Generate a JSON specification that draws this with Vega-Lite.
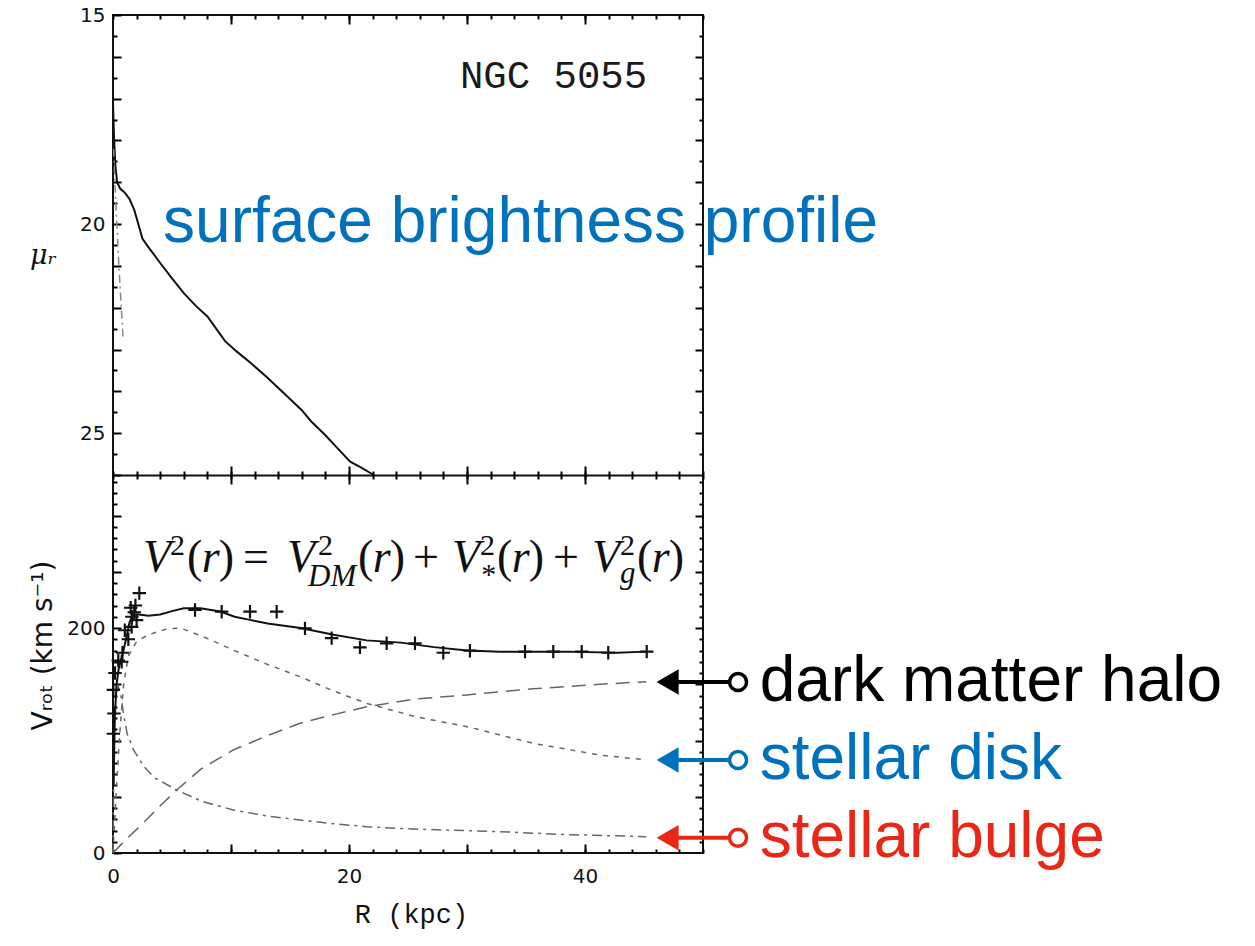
{
  "$schema": "https://vega.github.io/schema/vega-lite/v6.json",
  "width": 590,
  "height": 838,
  "autosize": {"type": "none"},
  "padding": {"left": 113, "top": 15, "right": 552, "bottom": 93},
  "background": "white",
  "config": {
    "view": {"stroke": "#111", "strokeWidth": 2},
    "axis": {
      "grid": false, "domainColor": "#111", "domainWidth": 2, "tickColor": "#000000", "tickWidth": 2, "tickOpacity": 1,
      "labelFont": "DejaVu Sans", "labelFontSize": 20, "labelColor": "#111", "labelFlush": false,
      "labelOverlap": false, "labelBound": false, "titleColor": "#111", "zindex": 2
    }
  },
  "datasets": {
    "sb": [
      {"R":0.0,"mu":17.1},{"R":0.05,"mu":17.6},{"R":0.1,"mu":18.0},{"R":0.2,"mu":18.6},{"R":0.35,"mu":19.0},
      {"R":0.6,"mu":19.15},{"R":1.0,"mu":19.25},{"R":1.4,"mu":19.4},{"R":1.8,"mu":19.66},{"R":2.2,"mu":20.05},
      {"R":2.5,"mu":20.35},{"R":3.0,"mu":20.55},{"R":4.0,"mu":20.93},{"R":5.0,"mu":21.3},{"R":6.0,"mu":21.65},
      {"R":7.0,"mu":21.95},{"R":8.0,"mu":22.21},{"R":9.0,"mu":22.6},{"R":9.5,"mu":22.8},{"R":10.5,"mu":23.05},
      {"R":11.7,"mu":23.33},{"R":13.0,"mu":23.65},{"R":14.8,"mu":24.13},{"R":16.0,"mu":24.45},{"R":16.8,"mu":24.72},
      {"R":18.0,"mu":25.05},{"R":19.0,"mu":25.35},{"R":20.1,"mu":25.68},{"R":21.0,"mu":25.82},{"R":22.1,"mu":26.0}
    ],
    "sbBulge": [
      {"R":0.05,"mu":18.2},{"R":0.25,"mu":19.6},{"R":0.5,"mu":21.0},{"R":0.7,"mu":22.0},{"R":0.85,"mu":22.7}
    ],
    "topNotes": [
      {"label":"NGC 5055","R":29.4,"mu":16.75},
      {"label":"surface brightness profile","R":4.24,"mu":20.43}
    ],
    "vtot": [
      {"R":0.05,"v":60},{"R":0.15,"v":120},{"R":0.3,"v":150},{"R":0.5,"v":165},{"R":0.8,"v":176},
      {"R":1.1,"v":190},{"R":1.4,"v":205},{"R":1.7,"v":212},{"R":2.2,"v":212},{"R":3.0,"v":211},
      {"R":4.0,"v":212},{"R":5.0,"v":215},{"R":6.0,"v":217.5},{"R":7.4,"v":217.5},{"R":9.1,"v":214.6},
      {"R":10.3,"v":210},{"R":11.7,"v":207},{"R":13.1,"v":204},{"R":15.9,"v":200},{"R":18.7,"v":194},
      {"R":21.5,"v":189},{"R":24.4,"v":187},{"R":27.2,"v":183},{"R":30.0,"v":180},{"R":32.8,"v":179},
      {"R":38.5,"v":179},{"R":42.7,"v":178},{"R":45.2,"v":179}
    ],
    "obs": [
      {"R":0.03,"v":106},{"R":0.08,"v":124},{"R":0.03,"v":145},{"R":0.17,"v":160},{"R":0.45,"v":171},
      {"R":0.74,"v":170},{"R":0.8,"v":178},{"R":1.0,"v":198},{"R":1.3,"v":190},{"R":1.58,"v":201},
      {"R":1.5,"v":218},{"R":1.8,"v":214},{"R":1.6,"v":210},{"R":2.0,"v":207},{"R":1.9,"v":220},
      {"R":2.23,"v":231},
      {"R":6.95,"v":216},{"R":9.21,"v":214.5},{"R":11.61,"v":214.5},{"R":13.87,"v":214.5},{"R":16.27,"v":199.7},
      {"R":18.53,"v":191},{"R":20.93,"v":182.8},{"R":23.19,"v":186.4},{"R":25.59,"v":186.4},{"R":27.99,"v":178},
      {"R":30.25,"v":179.8},{"R":34.92,"v":179},{"R":37.31,"v":179},{"R":39.72,"v":179},{"R":41.97,"v":178},
      {"R":45.23,"v":179}
    ],
    "disk": [
      {"R":0.0,"v":0},{"R":0.3,"v":60},{"R":0.6,"v":110},{"R":0.9,"v":150},{"R":1.3,"v":175},{"R":2.0,"v":188},
      {"R":3.0,"v":194},{"R":4.5,"v":199},{"R":5.7,"v":200},{"R":7.5,"v":193},{"R":10.2,"v":180.4},{"R":13.0,"v":168},
      {"R":15.85,"v":156.7},{"R":18.7,"v":144},{"R":21.5,"v":133},{"R":25.7,"v":121},{"R":30.0,"v":112.3},
      {"R":35.6,"v":97.5},{"R":41.3,"v":87},{"R":45.2,"v":82.7}
    ],
    "halo": [
      {"R":0.0,"v":0},{"R":1.0,"v":11},{"R":2.5,"v":26},{"R":4.0,"v":42},{"R":5.4,"v":56},{"R":7.5,"v":75},
      {"R":10.2,"v":91.6},{"R":13.0,"v":104},{"R":15.85,"v":115.3},{"R":18.7,"v":123},{"R":21.5,"v":130},
      {"R":25.7,"v":137},{"R":30.0,"v":140.5},{"R":35.6,"v":146},{"R":41.3,"v":150},{"R":45.2,"v":152.3}
    ],
    "bulge": [
      {"R":0.0,"v":0},{"R":0.05,"v":60},{"R":0.12,"v":110},{"R":0.25,"v":140},{"R":0.45,"v":148},{"R":0.7,"v":138},
      {"R":0.87,"v":125},{"R":1.2,"v":106},{"R":1.72,"v":92},{"R":2.6,"v":77},{"R":3.5,"v":67},{"R":5.4,"v":56},
      {"R":7.5,"v":46},{"R":10.2,"v":38.2},{"R":13.0,"v":33},{"R":15.85,"v":29.3},{"R":18.7,"v":26},{"R":21.5,"v":23.4},
      {"R":25.0,"v":21.5},{"R":28.5,"v":20.3},{"R":32.8,"v":19},{"R":38.0,"v":16.5},{"R":45.2,"v":14.5}
    ],
    "ann": [
      {"component":"dark matter halo","v":152},
      {"component":"stellar disk","v":82.7},
      {"component":"stellar bulge","v":13.5}
    ],
    "fMainIt": [
      {"t":"V","R":2.54,"v":250},{"t":"V","R":14.75,"v":250},{"t":"V","R":28.73,"v":250},{"t":"V","R":40.59,"v":250},
      {"t":"r","R":7.52,"v":250},{"t":"r","R":22.01,"v":250},{"t":"r","R":33.79,"v":250},{"t":"r","R":45.65,"v":250}
    ],
    "fMainRm": [
      {"t":"(","R":6.27,"v":250},{"t":"(","R":20.76,"v":250},{"t":"(","R":32.54,"v":250},{"t":"(","R":44.41,"v":250},
      {"t":")","R":8.97,"v":250},{"t":")","R":23.46,"v":250},{"t":")","R":35.24,"v":250},{"t":")","R":47.1,"v":250},
      {"t":"=","R":11.02,"v":250},{"t":"+","R":25.42,"v":250},{"t":"+","R":37.29,"v":250}
    ],
    "fSup": [
      {"t":"2","R":4.83,"v":265},{"t":"2","R":17.37,"v":265},{"t":"2","R":31.1,"v":265},{"t":"2","R":42.97,"v":265}
    ],
    "fSubIt": [
      {"t":"DM","R":16.53,"v":237},{"t":"g","R":42.97,"v":240}
    ],
    "fSubRm": [
      {"t":"*","R":31.2,"v":239}
    ]
  },
  "layer": [
    {
      "data": {"name": "sb"},
      "mark": {"type": "line", "color": "#111", "strokeWidth": 2},
      "encoding": {
        "x": {"field": "R", "type": "quantitative", "scale": {"domain": [0, 50], "nice": false, "zero": false},
          "axis": {"orient": "top", "values": [0,2,4,6,8,10,12,14,16,18,20,22,24,26,28,30,32,34,36,38,40,42,44,46,48,50], "ticks": true, "tickSize": -4, "labels": false, "domain": false, "title": null}},
        "y": {"field": "mu", "type": "quantitative", "scale": {"domain": [15, 26], "range": [0, 460], "nice": false, "zero": false},
          "axis": {"orient": "left", "values": [15, 20, 25], "ticks": false, "labelPadding": 8, "domain": false,
            "title": "μᵣ", "titleAngle": 0, "titleX": -70, "titleY": 240, "titleAlign": "center", "titleBaseline": "middle",
            "titleFont": "DejaVu Serif", "titleFontStyle": "italic", "titleFontSize": 27, "titleFontWeight": "normal"}}
      }
    },
    {
      "data": {"name": "sb"},
      "mark": {"type": "line", "opacity": 0},
      "encoding": {
        "x": {"field": "R", "type": "quantitative", "scale": {"domain": [0, 50], "nice": false, "zero": false},
          "axis": {"orient": "top", "values": [10, 20, 30, 40], "ticks": true, "tickSize": -9, "labels": false, "domain": false, "title": null}},
        "y": {"field": "mu", "type": "quantitative", "scale": {"domain": [15, 26], "range": [0, 460], "nice": false, "zero": false},
          "axis": {"orient": "left", "values": [15.5,16.5,17.5,18.5,19.5,20.5,21.5,22.5,23.5,24.5,25.5], "ticks": true, "tickSize": -4, "labels": false, "domain": false, "title": null}}
      }
    },
    {
      "data": {"name": "sbBulge"},
      "mark": {"type": "line", "color": "#888", "strokeWidth": 1.5, "strokeDash": [8, 4, 2, 4]},
      "encoding": {
        "x": {"field": "R", "type": "quantitative", "scale": {"domain": [0, 50], "nice": false, "zero": false},
          "axis": {"orient": "bottom", "offset": -378, "ticks": false, "labels": false, "domain": true, "title": null}},
        "y": {"field": "mu", "type": "quantitative", "scale": {"domain": [15, 26], "range": [0, 460], "nice": false, "zero": false},
          "axis": {"orient": "left", "values": [15,16,17,18,19,20,21,22,23,24,25,26], "ticks": true, "tickSize": -8, "labels": false, "domain": false, "title": null}}
      }
    },
    {
      "data": {"name": "topNotes"},
      "transform": [{"filter": "datum.label === 'NGC 5055'"}],
      "mark": {"type": "text", "font": "Liberation Mono", "fontSize": 39, "align": "left", "baseline": "alphabetic", "color": "#1a1a1a"},
      "encoding": {
        "text": {"field": "label"},
        "x": {"field": "R", "type": "quantitative", "scale": {"domain": [0, 50], "nice": false, "zero": false},
          "axis": {"orient": "bottom", "offset": -382, "values": [0,2,4,6,8,10,12,14,16,18,20,22,24,26,28,30,32,34,36,38,40,42,44,46,48,50], "ticks": true, "tickSize": 8, "labels": false, "domain": false, "title": null}},
        "y": {"field": "mu", "type": "quantitative", "scale": {"domain": [15, 26], "range": [0, 460], "nice": false, "zero": false},
          "axis": {"orient": "right", "values": [15.5,16.5,17.5,18.5,19.5,20.5,21.5,22.5,23.5,24.5,25.5], "ticks": true, "tickSize": -4, "labels": false, "domain": false, "title": null}}
      }
    },
    {
      "data": {"name": "topNotes"},
      "transform": [{"filter": "datum.label === 'surface brightness profile'"}],
      "mark": {"type": "text", "font": "Liberation Sans", "fontSize": 64, "align": "left", "baseline": "alphabetic", "color": "#0071BC"},
      "encoding": {
        "text": {"field": "label"},
        "x": {"field": "R", "type": "quantitative", "scale": {"domain": [0, 50], "nice": false, "zero": false},
          "axis": {"orient": "bottom", "offset": -387, "values": [10, 20, 30, 40], "ticks": true, "tickSize": 18, "labels": false, "domain": false, "title": null}},
        "y": {"field": "mu", "type": "quantitative", "scale": {"domain": [15, 26], "range": [0, 460], "nice": false, "zero": false},
          "axis": {"orient": "right", "values": [16,17,18,19,20,21,22,23,24,25], "ticks": true, "tickSize": -8, "labels": false, "domain": false, "title": null}}
      }
    },
    {
      "data": {"name": "disk"},
      "mark": {"type": "line", "color": "#666", "strokeWidth": 1.5, "strokeDash": [5, 6]},
      "encoding": {
        "x": {"field": "R", "type": "quantitative", "scale": {"domain": [0, 50], "nice": false, "zero": false},
          "axis": {"orient": "bottom", "values": [10, 20, 30, 40], "ticks": true, "tickSize": -9, "labels": false, "domain": false, "title": null}},
        "y": {"field": "v", "type": "quantitative", "scale": {"domain": [0, 336], "range": [838, 460], "nice": false, "zero": false},
          "axis": {"orient": "right", "values": [10,20,30,40,60,70,80,90,110,120,130,140,160,170,180,190,210,220,230,240,260,270,280,290,310,320,330], "ticks": true, "tickSize": -4, "labels": false, "domain": false, "title": null}}
      }
    },
    {
      "data": {"name": "halo"},
      "mark": {"type": "line", "color": "#666", "strokeWidth": 1.5, "strokeDash": [14, 8]},
      "encoding": {
        "x": {"field": "R", "type": "quantitative", "scale": {"domain": [0, 50], "nice": false, "zero": false}, "axis": null},
        "y": {"field": "v", "type": "quantitative", "scale": {"domain": [0, 336], "range": [838, 460], "nice": false, "zero": false},
          "axis": {"orient": "right", "values": [50, 100, 150, 200, 250, 300], "ticks": true, "tickSize": -8, "labels": false, "domain": false, "title": null}}
      }
    },
    {
      "data": {"name": "bulge"},
      "mark": {"type": "line", "color": "#666", "strokeWidth": 1.5, "strokeDash": [10, 5, 3, 5]},
      "encoding": {
        "x": {"field": "R", "type": "quantitative", "scale": {"domain": [0, 50], "nice": false, "zero": false}, "axis": null},
        "y": {"field": "v", "type": "quantitative", "scale": {"domain": [0, 336], "range": [838, 460], "nice": false, "zero": false},
          "axis": {"orient": "left", "values": [0, 50, 100, 150, 200, 250, 300], "ticks": true, "tickSize": -8, "labels": false, "domain": false, "title": null}}
      }
    },
    {
      "data": {"name": "vtot"},
      "mark": {"type": "line", "color": "#111", "strokeWidth": 2},
      "encoding": {
        "x": {"field": "R", "type": "quantitative", "scale": {"domain": [0, 50], "nice": false, "zero": false},
          "axis": {"orient": "bottom", "values": [0, 20, 40], "ticks": false, "labelPadding": 13, "domain": false,
            "title": "R (kpc)", "titleFont": "Liberation Mono", "titleFontSize": 27, "titleFontWeight": "normal",
            "titleX": 298, "titleY": 69, "titleAlign": "center", "titleBaseline": "alphabetic"}},
        "y": {"field": "v", "type": "quantitative", "scale": {"domain": [0, 336], "range": [838, 460], "nice": false, "zero": false},
          "axis": {"orient": "left", "values": [0, 200], "ticks": false, "labelPadding": 8, "domain": false,
            "title": "Vᵣₒₜ (km s⁻¹)", "titleFont": "DejaVu Sans", "titleFontSize": 28, "titleFontWeight": "normal",
            "titleAngle": -90, "titleX": -70, "titleY": 630, "titleAlign": "center", "titleBaseline": "middle"}}
      }
    },
    {
      "data": {"name": "obs"},
      "mark": {"type": "point", "shape": "M-1,0L1,0M0,-1L0,1", "size": 180, "filled": false, "stroke": "#111", "strokeWidth": 2.2, "opacity": 1},
      "encoding": {
        "x": {"field": "R", "type": "quantitative", "scale": {"domain": [0, 50], "nice": false, "zero": false},
          "axis": {"orient": "bottom", "values": [0,2,4,6,8,10,12,14,16,18,20,22,24,26,28,30,32,34,36,38,40,42,44,46,48,50], "ticks": true, "tickSize": -4, "labels": false, "domain": false, "title": null}},
        "y": {"field": "v", "type": "quantitative", "scale": {"domain": [0, 336], "range": [838, 460], "nice": false, "zero": false},
          "axis": {"orient": "left", "values": [10,20,30,40,60,70,80,90,110,120,130,140,160,170,180,190,210,220,230,240,260,270,280,290,310,320,330], "ticks": true, "tickSize": -4, "labels": false, "domain": false, "title": null}}
      }
    },
    {
      "data": {"name": "fMainIt"},
      "mark": {"type": "text", "font": "Liberation Serif", "fontStyle": "italic", "fontSize": 46, "align": "left", "baseline": "alphabetic", "color": "#111"},
      "encoding": {
        "text": {"field": "t"},
        "x": {"field": "R", "type": "quantitative", "scale": {"domain": [0, 50], "nice": false, "zero": false}, "axis": null},
        "y": {"field": "v", "type": "quantitative", "scale": {"domain": [0, 336], "range": [838, 460], "nice": false, "zero": false}, "axis": null}
      }
    },
    {
      "data": {"name": "fMainRm"},
      "mark": {"type": "text", "font": "Liberation Serif", "fontSize": 46, "align": "left", "baseline": "alphabetic", "color": "#111"},
      "encoding": {
        "text": {"field": "t"},
        "x": {"field": "R", "type": "quantitative", "scale": {"domain": [0, 50], "nice": false, "zero": false}, "axis": null},
        "y": {"field": "v", "type": "quantitative", "scale": {"domain": [0, 336], "range": [838, 460], "nice": false, "zero": false}, "axis": null}
      }
    },
    {
      "data": {"name": "fSup"},
      "mark": {"type": "text", "font": "Liberation Serif", "fontSize": 30, "align": "left", "baseline": "alphabetic", "color": "#111"},
      "encoding": {
        "text": {"field": "t"},
        "x": {"field": "R", "type": "quantitative", "scale": {"domain": [0, 50], "nice": false, "zero": false}, "axis": null},
        "y": {"field": "v", "type": "quantitative", "scale": {"domain": [0, 336], "range": [838, 460], "nice": false, "zero": false}, "axis": null}
      }
    },
    {
      "data": {"name": "fSubIt"},
      "mark": {"type": "text", "font": "Liberation Serif", "fontStyle": "italic", "fontSize": 31, "align": "left", "baseline": "alphabetic", "color": "#111"},
      "encoding": {
        "text": {"field": "t"},
        "x": {"field": "R", "type": "quantitative", "scale": {"domain": [0, 50], "nice": false, "zero": false}, "axis": null},
        "y": {"field": "v", "type": "quantitative", "scale": {"domain": [0, 336], "range": [838, 460], "nice": false, "zero": false}, "axis": null}
      }
    },
    {
      "data": {"name": "fSubRm"},
      "mark": {"type": "text", "font": "Liberation Serif", "fontSize": 30, "align": "left", "baseline": "alphabetic", "color": "#111"},
      "encoding": {
        "text": {"field": "t"},
        "x": {"field": "R", "type": "quantitative", "scale": {"domain": [0, 50], "nice": false, "zero": false}, "axis": null},
        "y": {"field": "v", "type": "quantitative", "scale": {"domain": [0, 336], "range": [838, 460], "nice": false, "zero": false}, "axis": null}
      }
    },
    {
      "data": {"name": "ann"},
      "mark": {"type": "rule", "strokeWidth": 4},
      "encoding": {
        "x": {"datum": 47.3, "type": "quantitative", "scale": {"domain": [0, 50], "nice": false, "zero": false}, "axis": null},
        "x2": {"datum": 52.3},
        "y": {"field": "v", "type": "quantitative", "scale": {"domain": [0, 336], "range": [838, 460], "nice": false, "zero": false}, "axis": null},
        "color": {"field": "component", "type": "nominal", "scale": {"domain": ["dark matter halo", "stellar disk", "stellar bulge"], "range": ["#000000", "#0071BC", "#EA2616"]}, "legend": null}
      }
    },
    {
      "data": {"name": "ann"},
      "mark": {"type": "point", "shape": "triangle-left", "filled": true, "size": 650, "opacity": 1},
      "encoding": {
        "x": {"datum": 47.0, "type": "quantitative", "scale": {"domain": [0, 50], "nice": false, "zero": false}, "axis": null},
        "y": {"field": "v", "type": "quantitative", "scale": {"domain": [0, 336], "range": [838, 460], "nice": false, "zero": false}, "axis": null},
        "color": {"field": "component", "type": "nominal", "scale": {"domain": ["dark matter halo", "stellar disk", "stellar bulge"], "range": ["#000000", "#0071BC", "#EA2616"]}, "legend": null}
      }
    },
    {
      "data": {"name": "ann"},
      "mark": {"type": "point", "shape": "circle", "filled": false, "fill": "white", "size": 290, "strokeWidth": 3.5, "opacity": 1},
      "encoding": {
        "x": {"datum": 52.97, "type": "quantitative", "scale": {"domain": [0, 50], "nice": false, "zero": false}, "axis": null},
        "y": {"field": "v", "type": "quantitative", "scale": {"domain": [0, 336], "range": [838, 460], "nice": false, "zero": false}, "axis": null},
        "stroke": {"field": "component", "type": "nominal", "scale": {"domain": ["dark matter halo", "stellar disk", "stellar bulge"], "range": ["#000000", "#0071BC", "#EA2616"]}, "legend": null}
      }
    },
    {
      "data": {"name": "ann"},
      "mark": {"type": "text", "font": "Liberation Sans", "fontSize": 64, "align": "left", "baseline": "alphabetic", "dy": 19},
      "encoding": {
        "text": {"field": "component"},
        "x": {"datum": 54.8, "type": "quantitative", "scale": {"domain": [0, 50], "nice": false, "zero": false}, "axis": null},
        "y": {"field": "v", "type": "quantitative", "scale": {"domain": [0, 336], "range": [838, 460], "nice": false, "zero": false}, "axis": null},
        "color": {"field": "component", "type": "nominal", "scale": {"domain": ["dark matter halo", "stellar disk", "stellar bulge"], "range": ["#000000", "#0071BC", "#EA2616"]}, "legend": null}
      }
    }
  ],
  "resolve": {
    "scale": {"y": "independent"},
    "axis": {"x": "independent", "y": "independent"}
  }
}
